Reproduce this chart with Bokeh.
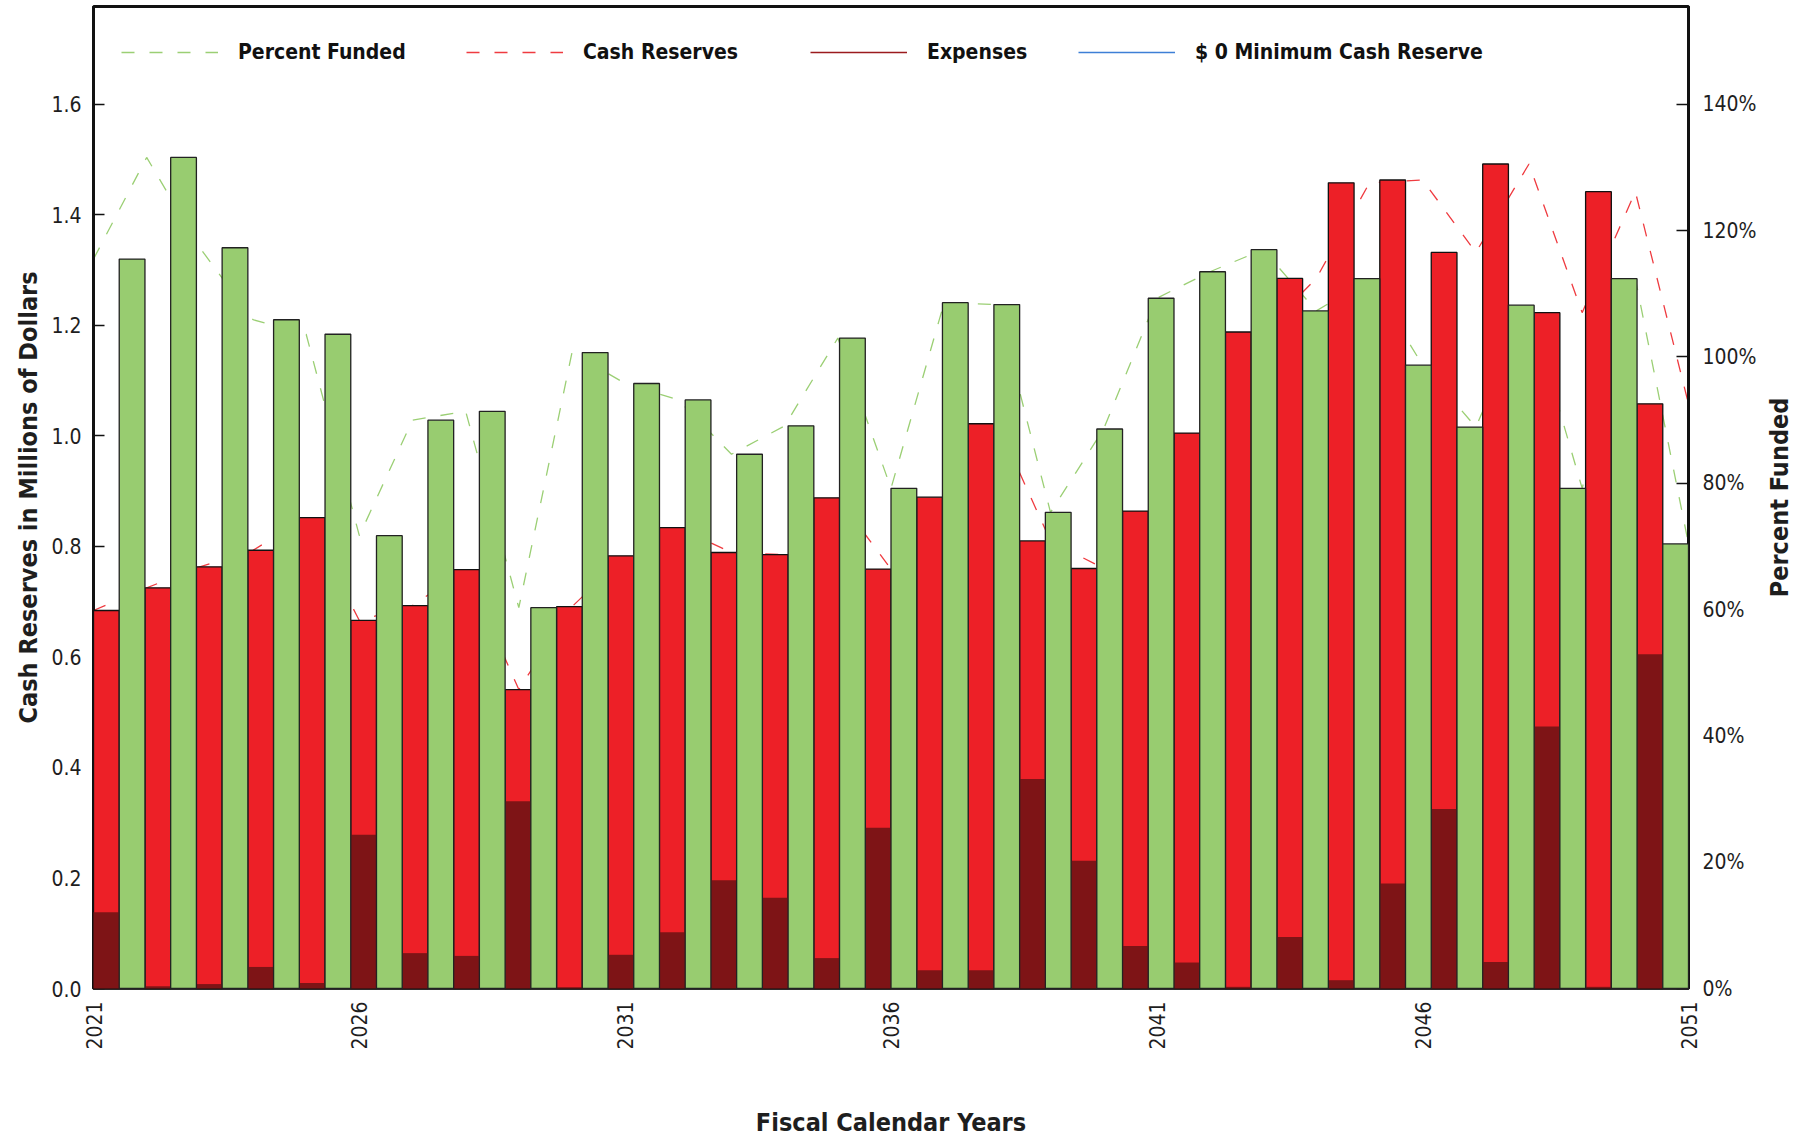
import math
from bokeh.plotting import figure
from bokeh.models import (Range1d, LinearAxis, Axis, FixedTicker, Legend, LegendItem,
                          PrintfTickFormatter, ColumnDataSource)
from bokeh.transform import dodge
from bokeh.embed import file_html
from bokeh.resources import INLINE

# ---------------- data ----------------
years = list(range(2021, 2052))
cash_reserves = [0.684, 0.725, 0.763, 0.793, 0.852, 0.666, 0.693, 0.758, 0.541, 0.691,
                 0.783, 0.834, 0.789, 0.785, 0.888, 0.759, 0.889, 1.022, 0.810, 0.760,
                 0.864, 1.005, 1.188, 1.285, 1.458, 1.463, 1.332, 1.492, 1.223, 1.442,
                 1.058]
expenses = [0.138, 0.004, 0.008, 0.039, 0.010, 0.278, 0.064, 0.059, 0.339, 0.002,
            0.061, 0.102, 0.196, 0.164, 0.055, 0.291, 0.033, 0.033, 0.379, 0.231,
            0.077, 0.047, 0.003, 0.093, 0.015, 0.190, 0.325, 0.048, 0.474, 0.003,
            0.605]
percent_funded = [115.5, 131.6, 117.3, 105.9, 103.6, 71.7, 90.0, 91.4, 60.3, 100.7,
                  95.8, 93.2, 84.6, 89.1, 103.0, 79.2, 108.6, 108.3, 75.4, 88.6,
                  109.3, 113.5, 117.0, 107.3, 112.4, 98.7, 88.9, 108.2, 79.2, 112.4,
                  70.4]
min_cash_reserve = [0.0] * len(years)

x_tick_years = [2021, 2026, 2031, 2036, 2041, 2046, 2051]
cash_ticks = [0.0, 0.2, 0.4, 0.6, 0.8, 1.0, 1.2, 1.4, 1.6]
pct_ticks = [0, 20, 40, 60, 80, 100, 120, 140]

# ---------------- style ----------------
FONT = "DejaVu Sans Condensed"
RED = "#ED2027"
GREEN = "#98CC70"
DARK = "#7E1416"
TXT = "#1e1e1e"

src = ColumnDataSource(dict(year=years, cash=cash_reserves, exp=expenses, pct=percent_funded))

p = figure(width=1815, height=1140, output_backend="svg", toolbar_location=None,
           x_range=Range1d(2021, 2051), y_range=Range1d(0, 1.777),
           min_border_left=93, min_border_right=127, min_border_top=6, min_border_bottom=152,
           background_fill_color="white", border_fill_color="white")
p.extra_x_ranges = {"bars": Range1d(2021, 2052)}
p.extra_y_ranges = {"pct": Range1d(0, 155.5)}
p.xgrid.visible = False
p.ygrid.visible = False
p.outline_line_color = "#111111"
p.outline_line_width = 3

# lines (behind the bars)
r_pf = p.line(years, percent_funded, y_range_name="pct", line_color="#9BCF74",
              line_width=1.3, line_dash="13 15")
r_cr = p.line(years, cash_reserves, line_color="#EF3B40", line_width=1.3, line_dash="13 15")
r_ex = p.line(years, expenses, line_color="#9B1B1E", line_width=1.3)
r_mn = p.line(years, min_cash_reserve, line_color="#3D7FD6", line_width=1.3)

# bars (drawn above the axis ticks, like the reference)
p.vbar(x=dodge("year", 0.25), width=0.5, top="cash", bottom=0, source=src,
       x_range_name="bars", fill_color=RED, line_color="#111111", line_width=1.3,
       level="overlay")
p.vbar(x=dodge("year", 0.25), width=0.5, top="exp", bottom=0, source=src,
       x_range_name="bars", fill_color=DARK, line_color=None, level="overlay")
p.vbar(x=dodge("year", 0.75), width=0.5, top="pct", bottom=0, source=src,
       x_range_name="bars", y_range_name="pct", fill_color=GREEN,
       line_color="#222222", line_width=1.3, level="overlay")

# axes
xa = p.xaxis[0]
xa.ticker = FixedTicker(ticks=x_tick_years)
xa.formatter = PrintfTickFormatter(format="%d")
xa.major_label_orientation = math.pi / 2
xa.major_tick_in = 0
xa.major_tick_out = 0
xa.minor_tick_line_color = None
xa.major_label_standoff = 13
xa.axis_line_color = "#555555"
xa.axis_line_width = 2
xa.axis_label = "Fiscal Calendar Years"
xa.axis_label_standoff = 55

ya = p.yaxis[0]
ya.ticker = FixedTicker(ticks=cash_ticks)
ya.formatter = PrintfTickFormatter(format="%.1f")
ya.major_tick_in = 11
ya.major_tick_out = 0
ya.minor_tick_line_color = None
ya.major_label_standoff = 12
ya.axis_line_color = "#111111"
ya.axis_line_width = 3
ya.axis_label = "Cash Reserves in Millions of Dollars"
ya.axis_label_standoff = 5

ra = LinearAxis(y_range_name="pct", ticker=FixedTicker(ticks=pct_ticks),
                formatter=PrintfTickFormatter(format="%d%%"))
ra.major_tick_in = 12
ra.major_tick_out = 0
ra.minor_tick_line_color = None
ra.major_label_standoff = 14
ra.axis_line_color = "#111111"
ra.axis_line_width = 3
ra.axis_label_standoff = 20
if "axis_label_align" in Axis.properties():
    # bottom-to-top reading title, pushed up to the middle of the frame
    ra.axis_label = "\u00a0" * 50 + "Percent Funded"
    ra.axis_label_align = "start"
    ra.axis_label_orientation = math.pi / 2
else:
    ra.axis_label = "Percent Funded"
p.add_layout(ra, "right")

for ax in (xa, ya, ra):
    ax.major_tick_line_color = "#111111"
    ax.major_tick_line_width = 1.5
    ax.major_label_text_font = FONT
    ax.major_label_text_font_size = "21px"
    ax.major_label_text_color = TXT
    ax.axis_label_text_font = FONT
    ax.axis_label_text_font_size = "25px"
    ax.axis_label_text_font_style = "bold"
    ax.axis_label_text_color = TXT

# legend: one entry per legend box, placed along the top
legend_entries = [("Percent Funded", r_pf, 28), ("Cash Reserves", r_cr, 373),
                  ("Expenses", r_ex, 717), ("$ 0 Minimum Cash Reserve", r_mn, 985)]
for label, rend, lx in legend_entries:
    leg = Legend(items=[LegendItem(label=label, renderers=[rend])], location=(lx, 920),
                 orientation="horizontal", background_fill_alpha=0, border_line_color=None,
                 padding=0, margin=0, spacing=0, glyph_width=97, glyph_height=20,
                 label_standoff=20, label_height=32, label_text_font=FONT,
                 label_text_font_size="21px", label_text_font_style="bold",
                 label_text_color="#111111", label_text_baseline="middle")
    p.add_layout(leg)

open("out.html", "w").write(file_html(p, INLINE))
